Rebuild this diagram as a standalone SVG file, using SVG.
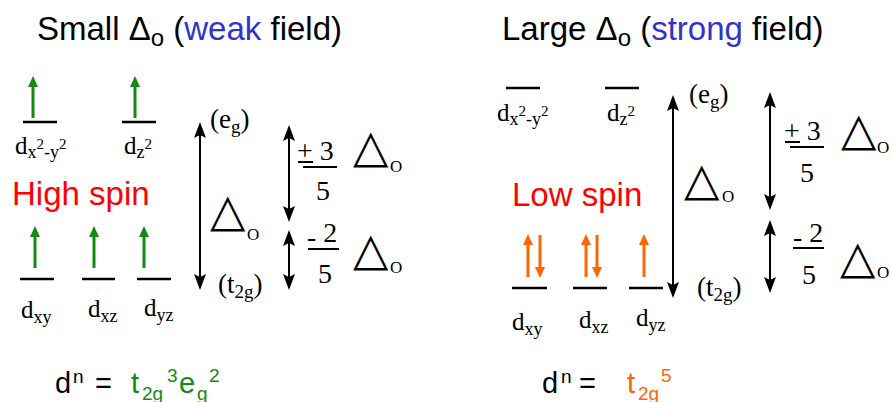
<svg xmlns="http://www.w3.org/2000/svg" width="892" height="402" viewBox="0 0 892 402">
<style>
.a{font-family:"Liberation Sans",Arial,sans-serif}
.s{font-family:"Liberation Serif","Times New Roman",serif}
.lv{stroke:#000;stroke-width:2.5}
.bk{stroke:#000;stroke-width:2;marker-start:url(#hk);marker-end:url(#hk)}
.gr{stroke:#138a13;stroke-width:3;marker-end:url(#hg)}
.or{stroke:#ff6600;stroke-width:3;marker-end:url(#ho)}
.fr{stroke:#000;stroke-width:2}
.tri{font-family:"DejaVu Sans",sans-serif;font-size:46px}
</style>
<defs>
<marker id="hk" markerUnits="userSpaceOnUse" markerWidth="18" markerHeight="14" viewBox="0 -7 18 14" refX="6" refY="0" orient="auto-start-reverse"><path d="M0,-6 L16,0 L0,6 L3,0 Z" fill="#000"/></marker>
<marker id="hg" markerUnits="userSpaceOnUse" markerWidth="12" markerHeight="12" viewBox="0 -6 12 12" refX="4" refY="0" orient="auto"><path d="M0,-5 L11,0 L0,5 Z" fill="#138a13"/></marker>
<marker id="ho" markerUnits="userSpaceOnUse" markerWidth="12" markerHeight="12" viewBox="0 -6 12 12" refX="4" refY="0" orient="auto"><path d="M0,-5 L11,0 L0,5 Z" fill="#ff6600"/></marker>
</defs>

<g id="titles">
<text class="a" x="37" y="40" font-size="33">Small Δ<tspan font-size="24" dy="6">o</tspan><tspan dy="-6"> (</tspan><tspan fill="#3333cc">weak</tspan> field)</text>
<text class="a" x="502" y="40" font-size="33">Large Δ<tspan font-size="24" dy="6">o</tspan><tspan dy="-6"> (</tspan><tspan fill="#3333cc">strong</tspan> field)</text>
</g>

<g id="connectors">
<line class="bk" x1="200" y1="132" x2="200" y2="280"/>
<line class="bk" x1="289" y1="135" x2="289" y2="212"/>
<line class="bk" x1="289" y1="240" x2="289" y2="280"/>
<line class="bk" x1="673" y1="105" x2="673" y2="288"/>
<line class="bk" x1="770" y1="102" x2="770" y2="200"/>
<line class="bk" x1="770" y1="230" x2="770" y2="283"/>
</g>

<g id="left-eg">
<line class="lv" x1="23" y1="122" x2="57" y2="122"/>
<line class="lv" x1="122" y1="122" x2="156" y2="122"/>
<line class="gr" x1="33" y1="118" x2="33" y2="83"/>
<line class="gr" x1="135" y1="118" x2="135" y2="83"/>
<text class="s" x="15" y="154" font-size="25">d<tspan font-size="18" dy="4">x</tspan><tspan font-size="15" dy="-9">2</tspan><tspan font-size="18" dy="9">-y</tspan><tspan font-size="15" dy="-9">2</tspan></text>
<text class="s" x="124" y="154" font-size="25">d<tspan font-size="18" dy="4">z</tspan><tspan font-size="15" dy="-9">2</tspan></text>
</g>

<g id="left-t2g">
<line class="lv" x1="20" y1="279" x2="54" y2="279"/>
<line class="lv" x1="82" y1="279" x2="115" y2="279"/>
<line class="lv" x1="137" y1="279" x2="171" y2="279"/>
<line class="gr" x1="35" y1="268" x2="35" y2="233"/>
<line class="gr" x1="94" y1="268" x2="94" y2="233"/>
<line class="gr" x1="144" y1="268" x2="144" y2="233"/>
<text class="s" x="21" y="318" font-size="25">d<tspan font-size="18" dy="5">xy</tspan></text>
<text class="s" x="88" y="317" font-size="25">d<tspan font-size="18" dy="5">xz</tspan></text>
<text class="s" x="144" y="316" font-size="25">d<tspan font-size="18" dy="5">yz</tspan></text>
</g>

<g id="left-labels">
<text class="a" x="12" y="205" font-size="33" fill="#ff0000">High spin</text>
<text class="s" x="210" y="128" font-size="27">(e<tspan font-size="19" dy="5">g</tspan><tspan dy="-5">)</tspan></text>
<text class="s" x="218" y="293" font-size="27">(t<tspan font-size="19" dy="5">2g</tspan><tspan dy="-5">)</tspan></text>
<text class="tri" x="210" y="226">△</text>
<text class="s" x="247" y="240" font-size="17">O</text>
<text class="s" x="297" y="160" font-size="28">+ 3</text>
<line class="fr" x1="298" y1="162" x2="313" y2="162"/>
<line class="fr" x1="303" y1="167" x2="337" y2="167"/>
<text class="s" x="316" y="200" font-size="28">5</text>
<text class="tri" x="353" y="162">△</text>
<text class="s" x="390" y="172" font-size="17">O</text>
<text class="s" x="307" y="242" font-size="28"><tspan dy="4">-</tspan><tspan dy="-4"> 2</tspan></text>
<line class="fr" x1="308" y1="249" x2="339" y2="249"/>
<text class="s" x="318" y="283" font-size="28">5</text>
<text class="tri" x="353" y="265">△</text>
<text class="s" x="390" y="273" font-size="17">O</text>
</g>

<g id="right-eg">
<line class="lv" x1="506" y1="88" x2="540" y2="88"/>
<line class="lv" x1="605" y1="88" x2="639" y2="88"/>
<text class="s" x="497" y="121" font-size="25">d<tspan font-size="18" dy="4">x</tspan><tspan font-size="15" dy="-9">2</tspan><tspan font-size="18" dy="9">-y</tspan><tspan font-size="15" dy="-9">2</tspan></text>
<text class="s" x="607" y="121" font-size="25">d<tspan font-size="18" dy="4">z</tspan><tspan font-size="15" dy="-9">2</tspan></text>
</g>

<g id="right-t2g">
<line class="lv" x1="512" y1="288" x2="547" y2="288"/>
<line class="lv" x1="573" y1="288" x2="607" y2="288"/>
<line class="lv" x1="629" y1="288" x2="663" y2="288"/>
<line class="or" x1="528" y1="277" x2="528" y2="241"/>
<line class="or" x1="540" y1="235" x2="540" y2="271"/>
<line class="or" x1="586" y1="277" x2="586" y2="241"/>
<line class="or" x1="597" y1="235" x2="597" y2="271"/>
<line class="or" x1="644" y1="277" x2="644" y2="241"/>
<text class="s" x="512" y="330" font-size="25">d<tspan font-size="18" dy="5">xy</tspan></text>
<text class="s" x="579" y="328" font-size="25">d<tspan font-size="18" dy="5">xz</tspan></text>
<text class="s" x="636" y="326" font-size="25">d<tspan font-size="18" dy="5">yz</tspan></text>
</g>

<g id="right-labels">
<text class="a" x="512" y="206" font-size="33" fill="#ff0000">Low spin</text>
<text class="s" x="689" y="103" font-size="27">(e<tspan font-size="19" dy="5">g</tspan><tspan dy="-5">)</tspan></text>
<text class="s" x="697" y="296" font-size="27">(t<tspan font-size="19" dy="5">2g</tspan><tspan dy="-5">)</tspan></text>
<text class="tri" x="684" y="195">△</text>
<text class="s" x="722" y="202" font-size="17">O</text>
<text class="s" x="784" y="140" font-size="28">+ 3</text>
<line class="fr" x1="785" y1="142" x2="800" y2="142"/>
<line class="fr" x1="790" y1="147" x2="824" y2="147"/>
<text class="s" x="800" y="182" font-size="28">5</text>
<text class="tri" x="841" y="145">△</text>
<text class="s" x="877" y="153" font-size="17">O</text>
<text class="s" x="793" y="242" font-size="28"><tspan dy="4">-</tspan><tspan dy="-4"> 2</tspan></text>
<line class="fr" x1="793" y1="248" x2="824" y2="248"/>
<text class="s" x="802" y="284" font-size="28">5</text>
<text class="tri" x="840" y="273">△</text>
<text class="s" x="877" y="278" font-size="17">O</text>
</g>

<g id="formulas">
<text class="a" x="55" y="393" font-size="29">d</text>
<text class="a" x="73" y="383" font-size="19">n</text>
<text class="a" x="95" y="393" font-size="29">=</text>
<text class="a" x="131" y="393" font-size="29" fill="#138a13">t</text>
<text class="a" x="142" y="400" font-size="19" fill="#138a13">2g</text>
<text class="a" x="167" y="382" font-size="19" fill="#138a13">3</text>
<text class="a" x="179" y="393" font-size="29" fill="#138a13">e</text>
<text class="a" x="197" y="400" font-size="19" fill="#138a13">g</text>
<text class="a" x="209" y="382" font-size="19" fill="#138a13">2</text>
<text class="a" x="542" y="393" font-size="29">d</text>
<text class="a" x="561" y="383" font-size="19">n</text>
<text class="a" x="579" y="393" font-size="29">=</text>
<text class="a" x="627" y="393" font-size="29" fill="#ff6600">t</text>
<text class="a" x="638" y="400" font-size="19" fill="#ff6600">2g</text>
<text class="a" x="661" y="382" font-size="19" fill="#ff6600">5</text>
</g>
</svg>
